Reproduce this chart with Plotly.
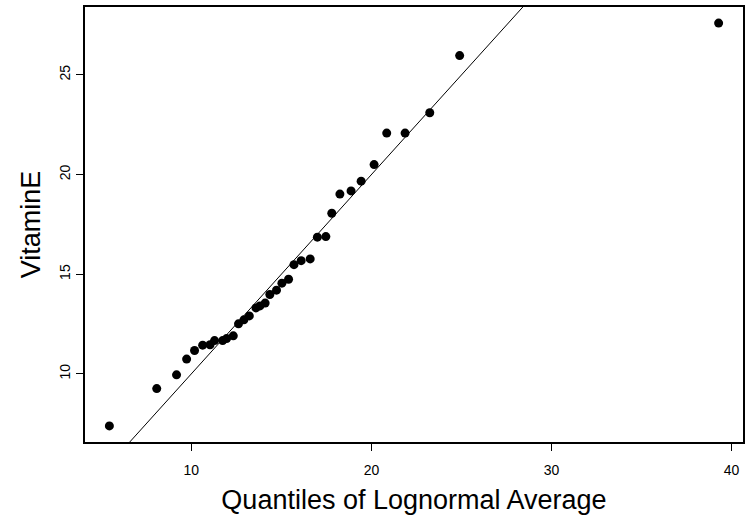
import plotly.graph_objects as go
import numpy as np

# Theoretical quantiles (x) and observed VitaminE values (y)
quantiles = [5.45, 8.08, 9.18, 9.74, 10.18, 10.63, 11.04, 11.29, 11.74, 11.96,
             12.33, 12.62, 12.92, 13.22, 13.59, 13.81, 14.10, 14.36, 14.73, 15.03,
             15.40, 15.70, 16.10, 16.60, 17.00, 17.47, 17.80, 18.25, 18.87, 19.43,
             20.15, 20.85, 21.87, 23.24, 24.90, 39.28]
vitamin_e = [7.39, 9.26, 9.95, 10.74, 11.17, 11.44, 11.46, 11.67, 11.67, 11.77,
             11.91, 12.51, 12.71, 12.91, 13.31, 13.41, 13.55, 13.98, 14.20, 14.55,
             14.75, 15.48, 15.68, 15.77, 16.86, 16.89, 18.06, 19.02, 19.18, 19.67,
             20.50, 22.08, 22.08, 23.10, 25.97, 27.60]

# reference line y = intercept + slope * x
line_intercept = 0.0
line_slope = 1.0

x_ticks = [10, 20, 30, 40]
y_ticks = [10, 15, 20, 25]

def r_range(v):
    lo, hi = min(v), max(v)
    pad = 0.04 * (hi - lo)
    return [lo - pad, hi + pad]

xr = r_range(quantiles)
yr = r_range(vitamin_e)

fig = go.Figure()
lx = np.array(xr)
fig.add_trace(go.Scatter(x=lx, y=line_intercept + line_slope * lx, mode="lines",
                         line=dict(color="black", width=1), hoverinfo="skip"))
fig.add_trace(go.Scatter(x=quantiles, y=vitamin_e, mode="markers",
                         marker=dict(color="black", size=9)))

font = "Liberation Sans, Arial, Helvetica, sans-serif"
fig.update_layout(
    width=746, height=525,
    margin=dict(l=85, r=1, t=7, b=83),
    paper_bgcolor="white", plot_bgcolor="white",
    showlegend=False,
    font=dict(family=font, color="black"),
)
fig.update_xaxes(range=xr, tickvals=x_ticks, ticktext=[str(t) for t in x_ticks],
                 showgrid=False, zeroline=False,
                 showline=True, linecolor="black", linewidth=1.5, mirror=True,
                 ticks="outside", ticklen=7, tickcolor="black", tickwidth=1,
                 tickfont=dict(size=14), ticklabelstandoff=7,
                 title=dict(text="Quantiles of Lognormal Average", font=dict(size=27), standoff=14))
fig.update_yaxes(range=yr, tickvals=y_ticks, ticktext=[str(t) for t in y_ticks],
                 showgrid=False, zeroline=False,
                 showline=True, linecolor="black", linewidth=1.5, mirror=True,
                 ticks="outside", ticklen=7, tickcolor="black", tickwidth=1,
                 tickfont=dict(size=14), tickangle=-90, ticklabelstandoff=1,
                 title=dict(text="VitaminE", font=dict(size=27), standoff=8))

fig.write_html("out.html")
